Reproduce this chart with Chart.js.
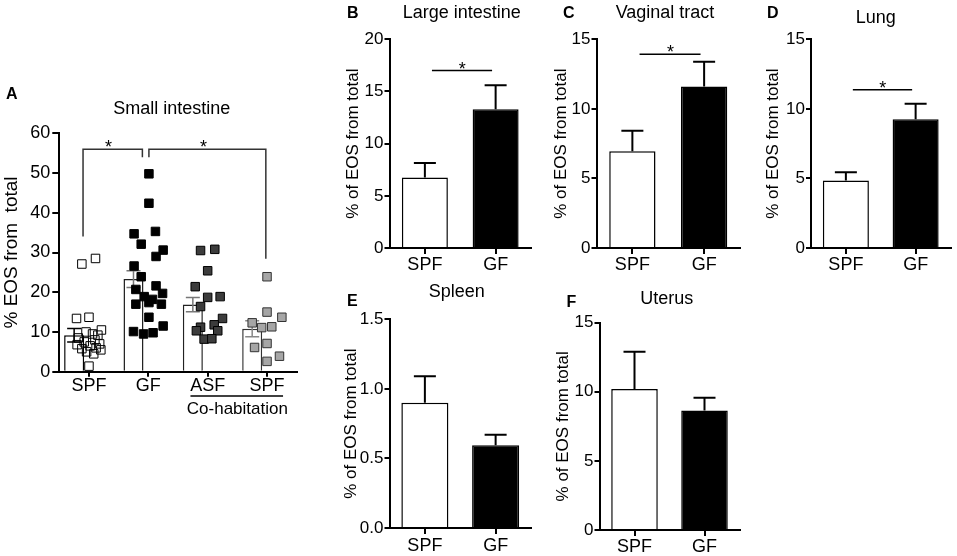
<!DOCTYPE html>
<html>
<head>
<meta charset="utf-8">
<script src="https://cdn.jsdelivr.net/npm/chart.js@4.4.1/dist/chart.umd.min.js"></script>
<style>
html,body{margin:0;padding:0;background:#fff;}
#wrap{position:relative;width:957px;height:556px;overflow:hidden;background:#fff;}
canvas{position:absolute;left:0;top:0;}
</style>
</head>
<body>
<div id="wrap">
<canvas id="cA" width="957" height="556"></canvas>
<canvas id="cB" width="957" height="556"></canvas>
<canvas id="cC" width="957" height="556"></canvas>
<canvas id="cD" width="957" height="556"></canvas>
<canvas id="cE" width="957" height="556"></canvas>
<canvas id="cF" width="957" height="556"></canvas>
</div>
<script>
// ---------------- DATA ----------------
const catsSmall = ['SPF', 'GF', 'ASF', 'SPF'];
const meanSmall = [9.2, 23.3, 16.9, 10.8];
const semSmall = [1.7, 2.1, 1.8, 2.0];
const ticksSmall = [0, 10, 20, 30, 40, 50, 60];

const ptsSPF = [27.1, 28.5, 13.4, 13.7, 10.5, 10.0, 9.5, 9.2, 8.5, 8.0, 7.5, 7.0, 6.8, 6.5, 6.0, 5.8, 5.5, 5.0, 4.5, 1.4];
const jitSPF = [-0.12, 0.11, -0.21, 0.0, 0.21, -0.05, 0.06, 0.15, -0.18, 0.1, -0.08, 0.18, -0.2, 0.02, 0.12, -0.12, 0.2, -0.04, 0.08, 0.0];
const ptsGF = [49.8, 42.4, 34.7, 35.3, 32.1, 30.6, 29.0, 26.6, 23.9, 21.6, 20.7, 19.7, 18.9, 18.2, 17.0, 17.4, 17.0, 13.7, 10.1, 9.5, 9.8, 11.5];
const jitGF = [0.01, 0.01, -0.24, 0.12, -0.12, 0.25, 0.13, -0.24, -0.12, 0.13, -0.21, 0.24, -0.07, 0.07, -0.21, 0.01, 0.22, 0.01, -0.25, -0.08, 0.08, 0.25];
const ptsASF = [30.5, 30.8, 25.4, 21.4, 18.7, 18.9, 16.4, 13.4, 11.2, 11.8, 10.3, 10.3, 8.2, 8.3];
const jitASF = [-0.12, 0.12, 0.0, -0.21, 0.0, 0.21, -0.12, 0.25, -0.12, 0.11, -0.19, 0.17, -0.06, 0.07];
const ptsCoSPF = [23.9, 15.0, 12.3, 13.7, 11.1, 11.3, 7.1, 6.1, 3.9, 2.6];
const jitCoSPF = [0.0, 0.0, -0.25, 0.25, -0.09, 0.08, 0.0, -0.21, 0.21, 0.0];

const catsOrgan = ['SPF', 'GF'];
const meanLarge = [6.75, 13.3];  const semLarge = [1.4, 2.3];   const sigLarge = [17.0];  const ticksLarge = [0, 5, 10, 15, 20];
const meanVag = [6.95, 11.6];    const semVag = [1.48, 1.78];   const sigVag = [13.93];   const ticksVag = [0, 5, 10, 15];
const meanLung = [4.85, 9.25];   const semLung = [0.6, 1.12];   const sigLung = [11.37];  const ticksLung = [0, 5, 10, 15];
const meanSpleen = [0.90, 0.595];const semSpleen = [0.19, 0.075];                          const ticksSpleen = [0, 0.5, 1.0, 1.5];
const meanUterus = [10.2, 8.65]; const semUterus = [2.7, 0.92];                            const ticksUterus = [0, 5, 10, 15];

// ---------------- STYLE / PLUGINS ----------------
Chart.defaults.font.family = "'Liberation Sans', Arial, Helvetica, sans-serif";
Chart.defaults.color = '#000';

const errPlugin = {
  id: 'errbars',
  afterDatasetDraw(chart, args) {
    const ds = chart.data.datasets[args.index];
    if (!ds.sem) return;
    const y = chart.scales.y;
    const ctx = chart.ctx;
    const cap = ds.errCap || 10;
    ctx.save();
    args.meta.data.forEach((bar, i) => {
      const m = ds.data[i], s = ds.sem[i];
      const yBar = y.getPixelForValue(m);
      const yTop = y.getPixelForValue(m + s);
      ctx.strokeStyle = ds.errColor ? ds.errColor[i] : '#000';
      ctx.lineWidth = ds.errWidth || 2;
      ctx.beginPath();
      ctx.moveTo(bar.x, yBar); ctx.lineTo(bar.x, yTop);
      ctx.moveTo(bar.x - cap, yTop); ctx.lineTo(bar.x + cap, yTop);
      if (ds.errBoth) {
        const yLow = y.getPixelForValue(m - s);
        ctx.moveTo(bar.x, yBar); ctx.lineTo(bar.x, yLow);
        ctx.moveTo(bar.x - cap, yLow); ctx.lineTo(bar.x + cap, yLow);
      }
      ctx.stroke();
    });
    ctx.restore();
  }
};

const sigPlugin = {
  id: 'sig',
  afterDatasetsDraw(chart, args, o) {
    const ctx = chart.ctx, xs = chart.scales.x, ys = chart.scales.y;
    ctx.save();
    ctx.strokeStyle = o.color || '#000';
    ctx.lineWidth = o.width || 1.5;
    (o.paths || []).forEach(p => {
      ctx.beginPath();
      p.xs.forEach((xv, i) => {
        const px = xs.getPixelForValue(xv), py = ys.getPixelForValue(p.ys[i]);
        if (i === 0) ctx.moveTo(px, py); else ctx.lineTo(px, py);
      });
      ctx.stroke();
    });
    ctx.fillStyle = '#000';
    ctx.font = "18px 'Liberation Sans', Arial, sans-serif";
    ctx.textAlign = 'center';
    ctx.textBaseline = 'alphabetic';
    (o.stars || []).forEach(s => {
      ctx.fillText('*', xs.getPixelForValue(s.x), ys.getPixelForValue(s.y) + 4);
    });
    ctx.restore();
  }
};

const textPlugin = {
  id: 'panelText',
  afterDraw(chart, args, o) {
    const ctx = chart.ctx;
    ctx.save();
    ctx.fillStyle = '#000';
    ctx.textBaseline = 'alphabetic';
    (o.items || []).forEach(t => {
      ctx.font = t.font;
      ctx.textAlign = t.align || 'center';
      ctx.fillText(t.text, t.x, t.y);
    });
    if (o.group) {
      const xs = chart.scales.x, g = o.group;
      ctx.strokeStyle = '#000';
      ctx.lineWidth = 1.5;
      ctx.beginPath();
      ctx.moveTo(xs.getPixelForValue(g.from), g.lineY);
      ctx.lineTo(xs.getPixelForValue(g.to), g.lineY);
      ctx.stroke();
      ctx.font = g.font;
      ctx.textAlign = 'center';
      ctx.fillText(g.text, xs.getPixelForValue(g.mid), g.textY);
    }
    ctx.restore();
  }
};

const FONT = "'Liberation Sans', Arial, sans-serif";

function axisX(fontSize, pad, tick, xH) {
  return {
    type: 'category',
    offset: true,
    grid: { display: true, drawOnChartArea: false, drawTicks: true, tickLength: tick, offset: false, color: '#000', lineWidth: 2 },
    border: { display: true, color: '#000', width: 2 },
    ticks: { font: { size: fontSize }, color: '#000', padding: pad, maxRotation: 0, autoSkip: false },
    afterFit: s => { s.height = xH; }
  };
}
function axisY(max, tickArr, yW, titleText, titleSize, tickSize, tick, pad, fmt) {
  return {
    type: 'linear', min: 0, max: max,
    afterBuildTicks: s => { s.ticks = tickArr.map(v => ({ value: v })); },
    grid: { display: true, drawOnChartArea: false, drawTicks: true, tickLength: tick, color: '#000', lineWidth: 2 },
    border: { display: true, color: '#000', width: 2 },
    ticks: { font: { size: tickSize }, color: '#000', padding: pad, callback: fmt || (v => String(v)) },
    title: { display: true, text: titleText, font: { size: titleSize }, color: '#000', padding: 0 },
    afterFit: s => { s.width = yW; }
  };
}

// ---------------- PANEL A ----------------
(function () {
  const L = 59.3, T = 133.3, R = 296.7, B = 371.7, yW = 59.3, xH = 25;
  const mk = (vals, jit, g) => vals.map((v, i) => ({ x: g + jit[i], y: v }));
  const pointDs = (vals, jit, g, bg, bd) => ({
    type: 'scatter', xAxisID: 'xs', yAxisID: 'y', order: 1,
    data: mk(vals, jit, g), pointStyle: 'rect', pointRadius: 6, pointHoverRadius: 6,
    backgroundColor: bg, borderColor: bd, borderWidth: 1
  });
  new Chart(document.getElementById('cA'), {
    type: 'bar',
    data: {
      labels: catsSmall,
      datasets: [
        {
          type: 'bar', order: 2, data: meanSmall, sem: semSmall, errBoth: true, errCap: 7, errWidth: 1.5,
          errColor: ['#000', '#777', '#777', '#888'],
          backgroundColor: '#fff', borderColor: ['#000', '#222', '#222', '#333'], borderWidth: 1.5,
          borderSkipped: 'start', barPercentage: 0.674, categoryPercentage: 1
        },
        pointDs(ptsSPF, jitSPF, 0, 'rgba(255,255,255,0)', '#000'),
        pointDs(ptsGF, jitGF, 1, '#000', '#000'),
        pointDs(ptsASF, jitASF, 2, '#3c3c3c', '#000'),
        pointDs(ptsCoSPF, jitCoSPF, 3, '#a6a6a6', '#333')
      ]
    },
    options: {
      responsive: false, animation: false, events: [],
      layout: { padding: { left: L - yW, top: T, right: 957 - R, bottom: 556 - B - xH } },
      plugins: {
        legend: { display: false }, tooltip: { enabled: false },
        sig: {
          color: '#333', width: 1.5,
          paths: [
            { xs: [-0.1, -0.1, 0.9, 0.9], ys: [34, 56, 56, 54] },
            { xs: [1.01, 1.01, 2.98, 2.98], ys: [54, 56, 56, 28.4] }
          ],
          stars: [{ x: 0.33, y: 56 }, { x: 1.93, y: 56 }]
        },
        panelText: {
          items: [
            { text: 'A', x: 6, y: 99.3, font: 'bold 16px ' + FONT, align: 'left' },
            { text: 'Small intestine', x: 171.7, y: 114.3, font: '18px ' + FONT }
          ],
          group: { from: 1.71, to: 3.27, mid: 2.5, lineY: 396, textY: 414, text: 'Co-habitation', font: '17px ' + FONT }
        }
      },
      scales: {
        x: axisX(18, -1, 5, xH),
        xs: { type: 'linear', min: -0.5, max: 3.5, offset: false, grace: 0, bounds: 'ticks', display: false, grid: { offset: false } },
        y: axisY(60, ticksSmall, yW, '% EOS from  total', 19, 18, 7, 2)
      }
    },
    plugins: [errPlugin, sigPlugin, textPlugin]
  });
})();

// ---------------- PANELS B-F ----------------
function organPanel(id, p) {
  const xH = 25;
  new Chart(document.getElementById(id), {
    type: 'bar',
    data: {
      labels: catsOrgan,
      datasets: [{
        data: p.means, sem: p.sem, errCap: 11, errWidth: 2,
        backgroundColor: ['#fff', '#000'], borderColor: '#000', borderWidth: 1.5,
        borderSkipped: 'start', barPercentage: p.bp, categoryPercentage: 1
      }]
    },
    options: {
      responsive: false, animation: false, events: [],
      layout: { padding: { left: p.L - p.yW, top: p.T, right: 957 - p.R, bottom: 556 - p.B - xH } },
      plugins: {
        legend: { display: false }, tooltip: { enabled: false },
        sig: p.sig ? { color: '#000', width: 1.5, paths: [{ xs: [0.1, 0.95], ys: [p.sig[0], p.sig[0]] }], stars: [{ x: 0.53, y: p.sig[0] }] } : { paths: [], stars: [] },
        panelText: {
          items: [
            { text: p.letter, x: p.lx, y: p.ly, font: 'bold 16px ' + FONT, align: 'left' },
            { text: p.title, x: p.tx, y: p.ty, font: '18px ' + FONT }
          ]
        }
      },
      scales: {
        x: axisX(18, p.xpad, 6, xH),
        y: axisY(p.max, p.ticks, p.yW, '% of EOS from total', 17, 17, 5, 1, p.fmt)
      }
    },
    plugins: [errPlugin, sigPlugin, textPlugin]
  });
}

organPanel('cB', { means: meanLarge, sem: semLarge, sig: sigLarge, ticks: ticksLarge, max: 20,
  L: 389.5, T: 39.3, R: 531, B: 248, yW: 46.4, bp: 0.65, xpad: 0,
  letter: 'B', lx: 347, ly: 18.3, title: 'Large intestine', tx: 461.7, ty: 17.8 });
organPanel('cC', { means: meanVag, sem: semVag, sig: sigVag, ticks: ticksVag, max: 15,
  L: 596.5, T: 39.3, R: 740, B: 248, yW: 45, bp: 0.645, xpad: 0,
  letter: 'C', lx: 563, ly: 18.3, title: 'Vaginal tract', tx: 665, ty: 18 });
organPanel('cD', { means: meanLung, sem: semLung, sig: sigLung, ticks: ticksLung, max: 15,
  L: 811, T: 39.3, R: 950.5, B: 248, yW: 47.9, bp: 0.66, xpad: 0,
  letter: 'D', lx: 767, ly: 18.3, title: 'Lung', tx: 875.7, ty: 22.5 });
organPanel('cE', { means: meanSpleen, sem: semSpleen, sig: null, ticks: ticksSpleen, max: 1.5,
  L: 389.5, T: 319.3, R: 531, B: 528, yW: 48, bp: 0.665, xpad: 1, fmt: v => v.toFixed(1),
  letter: 'E', lx: 347, ly: 306, title: 'Spleen', tx: 456.7, ty: 296.5 });
organPanel('cF', { means: meanUterus, sem: semUterus, sig: null, ticks: ticksUterus, max: 15,
  L: 599.5, T: 322.7, R: 739.5, B: 530, yW: 46.4, bp: 0.665, xpad: 0,
  letter: 'F', lx: 566.5, ly: 306.5, title: 'Uterus', tx: 666.7, ty: 303.5 });
</script>
</body>
</html>
